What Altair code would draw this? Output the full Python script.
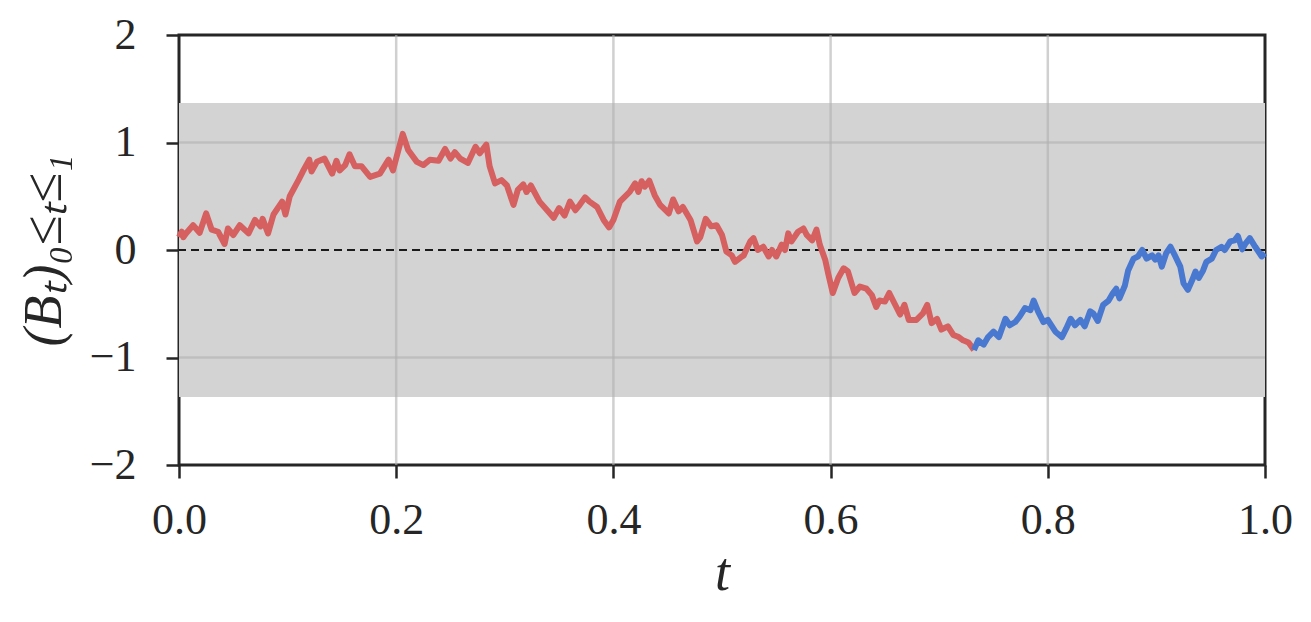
import altair as alt
import pandas as pd

# Red segment (t, B_t)
t_red = [0.0, 0.0025, 0.004, 0.007, 0.013, 0.019, 0.025, 0.030, 0.036, 0.042, 0.045, 0.050,
         0.056, 0.064, 0.070, 0.075, 0.077, 0.082, 0.087, 0.095, 0.098, 0.102, 0.110, 0.114,
         0.120, 0.122, 0.127, 0.134, 0.141, 0.145, 0.148, 0.153, 0.157, 0.162, 0.168, 0.176,
         0.185, 0.193, 0.197, 0.206, 0.211, 0.219, 0.225, 0.231, 0.239, 0.245, 0.250, 0.254,
         0.259, 0.266, 0.273, 0.277, 0.283, 0.286, 0.291, 0.297, 0.302, 0.308, 0.312, 0.317,
         0.320, 0.324, 0.332, 0.339, 0.345, 0.350, 0.355, 0.360, 0.365, 0.369, 0.374, 0.378,
         0.385, 0.391, 0.396, 0.400, 0.406, 0.415, 0.420, 0.423, 0.426, 0.429, 0.433, 0.438,
         0.443, 0.448, 0.451, 0.455, 0.460, 0.464, 0.471, 0.477, 0.480, 0.485, 0.490, 0.495,
         0.500, 0.504, 0.509, 0.512, 0.517, 0.520, 0.526, 0.529, 0.533, 0.538, 0.543, 0.546,
         0.550, 0.555, 0.558, 0.561, 0.564, 0.570, 0.575, 0.578, 0.583, 0.587, 0.590, 0.595,
         0.598, 0.602, 0.607, 0.612, 0.616, 0.622, 0.627, 0.633, 0.638, 0.642, 0.645, 0.650,
         0.654, 0.659, 0.664, 0.668, 0.672, 0.679, 0.685, 0.689, 0.693, 0.698, 0.702, 0.708,
         0.713, 0.718, 0.722, 0.727, 0.732]
b_red = [0.12, 0.17, 0.12, 0.16, 0.23, 0.16, 0.34, 0.19, 0.17, 0.056, 0.20, 0.14,
         0.23, 0.155, 0.28, 0.22, 0.29, 0.155, 0.33, 0.45, 0.33, 0.50, 0.65, 0.73,
         0.84, 0.73, 0.82, 0.85, 0.71, 0.83, 0.74, 0.79, 0.89, 0.78, 0.78, 0.68,
         0.71, 0.84, 0.74, 1.08, 0.93, 0.82, 0.79, 0.84, 0.83, 0.94, 0.85, 0.91,
         0.85, 0.81, 0.96, 0.90, 0.98, 0.78, 0.62, 0.65, 0.60, 0.42, 0.56, 0.61,
         0.54, 0.60, 0.45, 0.37, 0.30, 0.39, 0.32, 0.45, 0.37, 0.42, 0.49, 0.45,
         0.40, 0.28, 0.21, 0.28, 0.45, 0.54, 0.62, 0.54, 0.64, 0.59, 0.645, 0.51,
         0.42, 0.37, 0.34, 0.47, 0.36, 0.40, 0.28, 0.08, 0.12, 0.29, 0.22, 0.23,
         0.14, -0.015, -0.05, -0.11, -0.07, -0.05, 0.08, 0.11, 0.0, 0.03, -0.06, 0.0,
         -0.06, 0.05, 0.0, 0.155, 0.08, 0.17, 0.20, 0.14, 0.09, 0.19, 0.05, -0.09,
         -0.23, -0.40, -0.26, -0.17, -0.20, -0.40, -0.34, -0.36, -0.42, -0.53, -0.47, -0.48,
         -0.40, -0.50, -0.60, -0.51, -0.65, -0.65, -0.59, -0.51, -0.68, -0.64, -0.74, -0.71,
         -0.79, -0.81, -0.84, -0.86, -0.93]

# Blue segment (t, B_t)
t_blue = [0.732, 0.736, 0.741, 0.745, 0.750, 0.755, 0.761, 0.765, 0.770, 0.774, 0.779, 0.784,
          0.787, 0.791, 0.796, 0.800, 0.807, 0.813, 0.817, 0.821, 0.825, 0.830, 0.834, 0.839,
          0.842, 0.846, 0.851, 0.856, 0.860, 0.863, 0.866, 0.871, 0.874, 0.879, 0.883, 0.887,
          0.891, 0.896, 0.899, 0.902, 0.905, 0.909, 0.913, 0.917, 0.922, 0.925, 0.929, 0.933,
          0.936, 0.939, 0.943, 0.946, 0.951, 0.955, 0.960, 0.963, 0.968, 0.972, 0.975, 0.979,
          0.982, 0.986, 0.991, 0.995, 0.997, 1.0]
b_blue = [-0.93, -0.84, -0.88, -0.81, -0.76, -0.81, -0.64, -0.70, -0.67, -0.62, -0.54, -0.56,
          -0.47, -0.57, -0.67, -0.65, -0.76, -0.81, -0.73, -0.64, -0.70, -0.65, -0.71, -0.57,
          -0.59, -0.66, -0.51, -0.47, -0.40, -0.36, -0.45, -0.33, -0.19, -0.08, -0.06, 0.0,
          -0.08, -0.05, -0.09, -0.05, -0.155, -0.03, 0.03, -0.05, -0.155, -0.31, -0.37, -0.28,
          -0.20, -0.26, -0.19, -0.11, -0.08, 0.0, 0.03, 0.0, 0.08, 0.09, 0.13, 0.006,
          0.06, 0.11, 0.03, -0.03, -0.06, -0.03]

band_low = -1.367
band_high = 1.367
x_ticks = [0.0, 0.2, 0.4, 0.6, 0.8, 1.0]
y_ticks = [-2, -1, 0, 1, 2]

red = "#d65f5f"
blue = "#4878d0"
serif = "Liberation Serif"

df_red = pd.DataFrame({"t": t_red, "B": b_red})
df_blue = pd.DataFrame({"t": t_blue, "B": b_blue})

xs = alt.Scale(domain=[0, 1], nice=False, zero=False)
ys = alt.Scale(domain=[-2, 2], nice=False, zero=False)

band = alt.Chart(pd.DataFrame({"lo": [band_low], "hi": [band_high]})).mark_rect(
    color="#d3d3d3"
).encode(
    y=alt.Y("lo:Q", scale=ys),
    y2="hi:Q",
    x=alt.value(0),
    x2=alt.value(1086),
)

vgrid = alt.Chart(pd.DataFrame({"t": x_ticks[1:-1]})).mark_rule(
    color="#b0b0b0", strokeWidth=2.5, opacity=0.6
).encode(x=alt.X("t:Q", scale=xs))

hgrid = alt.Chart(pd.DataFrame({"B": [-1, 1]})).mark_rule(
    color="#b0b0b0", strokeWidth=2.5, opacity=0.6
).encode(y=alt.Y("B:Q", scale=ys))

zero = alt.Chart(pd.DataFrame({"B": [0]})).mark_rule(
    color="#1a1a1a", strokeWidth=2.2, strokeDash=[8, 5]
).encode(y=alt.Y("B:Q", scale=ys))

line_red = alt.Chart(df_red).mark_line(color=red, strokeWidth=6, strokeJoin="round").encode(
    x=alt.X("t:Q", scale=xs,
            axis=alt.Axis(values=x_ticks, format=".1f", title="t",
                          titleFontStyle="italic", titleFontSize=54, titleFont=serif,
                          titleFontWeight="normal", titlePadding=4,
                          labelPadding=20, labelFlush=False)),
    y=alt.Y("B:Q", scale=ys,
            axis=alt.Axis(values=y_ticks, format="d", title="(Bₜ)₀≤ₜ≤₁",
                          titleFontStyle="italic", titleFontSize=54, titleFont=serif,
                          titleFontWeight="normal", titlePadding=18,
                          labelPadding=30, labelFlush=False)),
)

line_blue = alt.Chart(df_blue).mark_line(color=blue, strokeWidth=6, strokeJoin="round").encode(
    x=alt.X("t:Q", scale=xs),
    y=alt.Y("B:Q", scale=ys),
)

chart = alt.layer(band, vgrid, hgrid, zero, line_red, line_blue).properties(
    width=1086, height=430,
    padding={"left": 171, "top": 27, "right": 38, "bottom": 149},
    autosize=alt.AutoSizeParams(type="none"),
).configure_view(
    stroke="#262626", strokeWidth=3
).configure_axis(
    grid=False,
    domain=False,
    ticks=True,
    tickColor="#262626",
    tickWidth=2.5,
    tickSize=13,
    labelFont=serif,
    labelFontSize=44,
    labelColor="#262626",
    titleColor="#262626",
    labelOverlap=False,
)

chart.save("out.html", embed_options={"renderer": "svg", "actions": False})
